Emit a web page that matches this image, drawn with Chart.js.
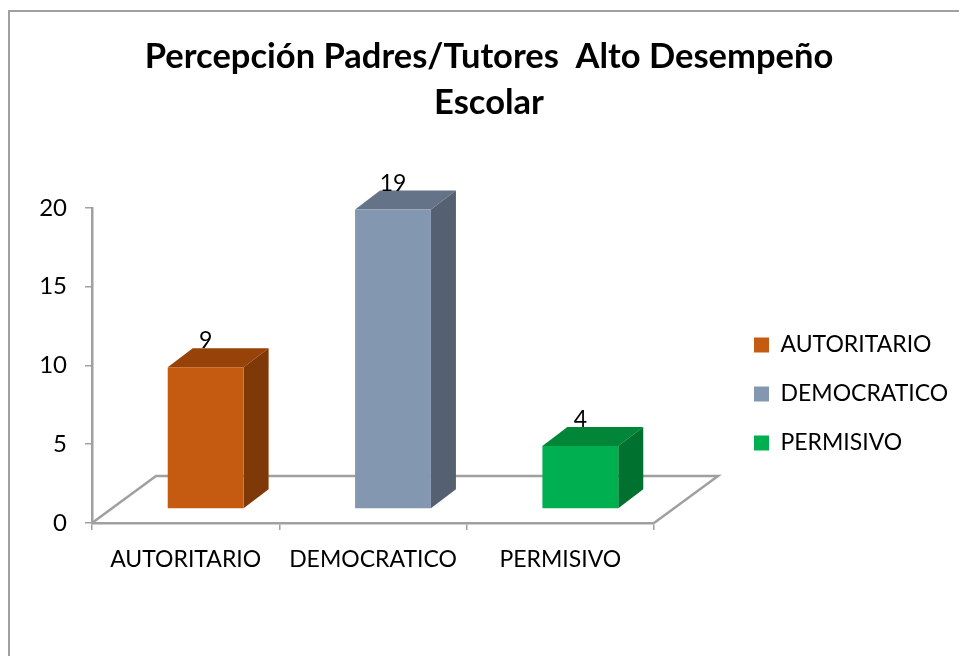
<!DOCTYPE html>
<html>
<head>
<meta charset="utf-8">
<style>html,body{margin:0;padding:0;background:#fff}canvas{display:block}</style>
<script src="https://cdn.jsdelivr.net/npm/chart.js@4"></script>
</head>
<body>
<canvas id="c" width="959" height="656"></canvas>
<script>
const categories = ['AUTORITARIO', 'DEMOCRATICO', 'PERMISIVO'];
const values = [9, 19, 4];
const yTicks = [0, 5, 10, 15, 20];
const titleLines = ['Percepción Padres/Tutores  Alto Desempeño', 'Escolar'];
const frontColors = ['#C55A11', '#8497B0', '#00B050'];
const topColors = ['#964209', '#657388', '#008539'];
const sideColors = ['#7F3808', '#556070', '#00712F'];

const FONT = 'Lato';
const DX = 25, DY = 19, SHIFT_X = 20, SHIFT_Y = 14, FLOOR_DX = 64, FLOOR_DY = 47;
const GRAY = '#A0A0A0';

const frame = {
  id: 'frame',
  beforeDraw(chart) {
    const c = chart.ctx;
    c.save();
    c.fillStyle = '#fff';
    c.fillRect(0, 0, chart.width, chart.height);
    c.strokeStyle = '#A0A0A0';
    c.lineWidth = 2;
    c.beginPath();
    c.moveTo(9, chart.height + 2);
    c.lineTo(9, 11);
    c.lineTo(chart.width + 2, 11);
    c.stroke();
    c.restore();
  }
};

const moveLegend = {
  id: 'moveLegend',
  afterLayout(chart) {
    const l = chart.legend;
    l.left = 754 - l.options.labels.padding;
    l.right = chart.width;
    l.top += 66;
    l.bottom += 66;
    chart.titleBlock.left = 0;
    chart.titleBlock.right = 978;
  }
};

const bars3d = {
  id: 'bars3d',
  beforeDatasetsDraw(chart) {
    const c = chart.ctx, a = chart.chartArea;
    c.save();
    c.strokeStyle = GRAY;
    c.lineWidth = 2.5;
    c.beginPath();
    c.moveTo(a.left, a.bottom);
    c.lineTo(a.left + FLOOR_DX, a.bottom - FLOOR_DY);
    c.lineTo(a.right + FLOOR_DX, a.bottom - FLOOR_DY);
    c.lineTo(a.right, a.bottom);
    c.stroke();
    c.restore();
    c.save();
    c.translate(SHIFT_X, -SHIFT_Y);
    chart.getDatasetMeta(0).data.forEach((b, i) => {
      const l = b.x - b.width / 2, r = b.x + b.width / 2;
      c.fillStyle = topColors[i];
      c.beginPath();
      c.moveTo(l, b.y);
      c.lineTo(l + DX, b.y - DY);
      c.lineTo(r + DX, b.y - DY);
      c.lineTo(r, b.y);
      c.closePath();
      c.fill();
      c.fillStyle = sideColors[i];
      c.beginPath();
      c.moveTo(r, b.y);
      c.lineTo(r + DX, b.y - DY);
      c.lineTo(r + DX, b.base - DY);
      c.lineTo(r, b.base);
      c.closePath();
      c.fill();
    });
  },
  afterDatasetsDraw(chart) {
    const c = chart.ctx;
    c.font = '23px ' + FONT;
    c.fillStyle = '#000';
    c.textAlign = 'center';
    c.textBaseline = 'alphabetic';
    chart.getDatasetMeta(0).data.forEach((b, i) => {
      c.fillText(String(values[i]), b.x, b.y - DY);
    });
    c.restore();
  }
};

new Chart(document.getElementById('c'), {
  type: 'bar',
  data: {
    labels: categories,
    datasets: [{
      data: values,
      backgroundColor: frontColors,
      barPercentage: 0.405,
      categoryPercentage: 1,
      clip: false
    }]
  },
  plugins: [frame, moveLegend, bars3d],
  options: {
    responsive: false,
    animation: false,
    layout: { padding: { left: 0, right: 87, top: 0, bottom: 0 } },
    plugins: {
      tooltip: { enabled: false },
      title: {
        display: true,
        text: titleLines,
        color: '#000',
        font: { family: FONT, size: 34.5, weight: 'bold', lineHeight: 1.33 },
        padding: { top: 34, bottom: 82 }
      },
      legend: {
        position: 'right',
        align: 'center',
        onClick: null,
        labels: {
          color: '#000',
          font: { family: FONT, size: 23 },
          boxWidth: 15,
          boxHeight: 15,
          padding: 26,
          generateLabels: () => categories.map((t, i) => ({
            text: t,
            fillStyle: frontColors[i],
            strokeStyle: frontColors[i],
            lineWidth: 0,
            index: i
          }))
        }
      }
    },
    scales: {
      x: {
        afterFit(s) { s.height = 133; },
        grid: { drawOnChartArea: false, drawTicks: true, tickLength: 7, color: GRAY, lineWidth: 1.5 },
        border: { color: GRAY, width: 2.5 },
        ticks: { color: '#000', font: { family: FONT, size: 23 }, padding: 16, maxRotation: 0, autoSkip: false }
      },
      y: {
        min: 0,
        max: 20,
        afterFit(s) { s.width = 92; },
        afterBuildTicks(s) { s.ticks = yTicks.map(v => ({ value: v })); },
        grid: { drawOnChartArea: false, drawTicks: true, tickLength: 7, color: GRAY, lineWidth: 1.5 },
        border: { color: GRAY, width: 2.5 },
        ticks: { color: '#000', font: { family: FONT, size: 24 }, padding: 18 }
      }
    }
  }
});
</script>
</body>
</html>
